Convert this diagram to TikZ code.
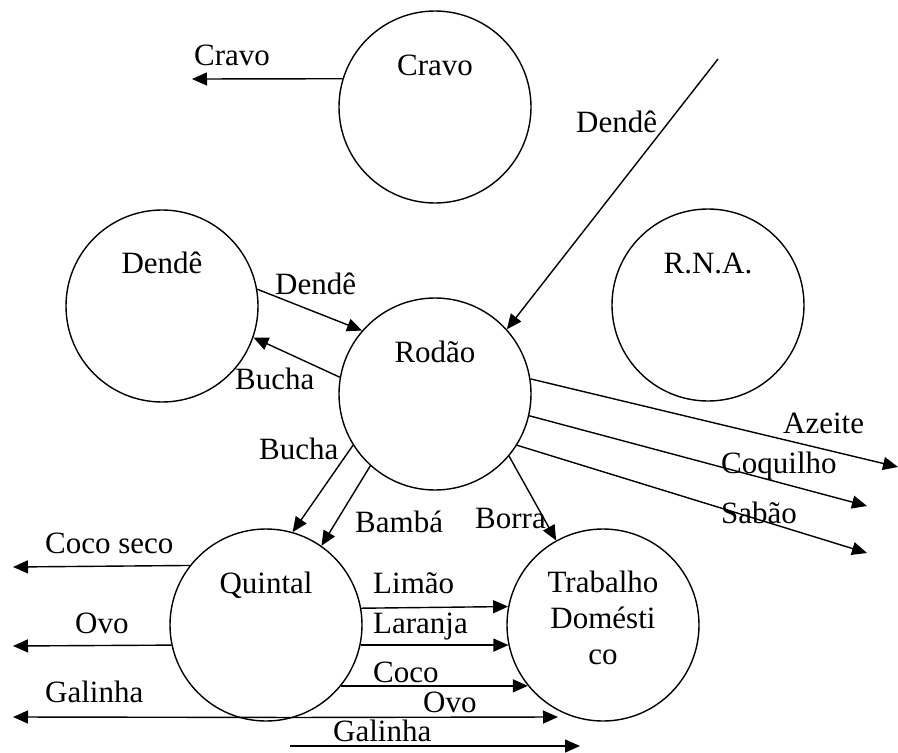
\documentclass[tikz,border=0pt]{standalone}
\usepackage{fontspec}
\setmainfont{Liberation Serif}
\usetikzlibrary{arrows.meta}

\begin{document}
\begin{tikzpicture}[
  x=1pt, y=-1pt,
  font=\fontsize{31}{36}\selectfont,
  proc/.style={draw, circle, minimum size=192pt, inner sep=0pt, line width=1.4pt},
  flow/.style={-{Triangle[length=15pt,width=13pt]}, line width=1.4pt},
  lbl/.style={anchor=base west, inner sep=0pt},
  ttl/.style={anchor=base, inner sep=0pt, align=center},
]
  \useasboundingbox (0,0) rectangle (898,753);

  % Circles
  \node[proc] (cravo)  at (435,107) {};
  \node[proc] (dende)  at (162,306) {};
  \node[proc] (rodao)  at (435,394) {};
  \node[proc] (rna)    at (708,305) {};
  \node[proc] (quintal) at (266,625) {};
  \node[proc] (trab)   at (603,625) {};

  % Circle names
  \node[ttl] (cravoname)   at (435,75)  {Cravo};
  \node[ttl] (dendename)   at (162,273) {Dendê};
  \node[ttl] (rodaoname)   at (435,362) {Rodão};
  \node[ttl] (rnaname)     at (708,273) {R.N.A.};
  \node[ttl] (quintalname) at (266,593) {Quintal};
  \node[ttl, anchor=north] (trabname) at (603,571) {Trabalho\\Domésti\\co};

  % Free ends
  \coordinate (cravoend)     at (192,79);
  \coordinate (dendestart)   at (718,59);
  \coordinate (azeiteend)    at (898,467);
  \coordinate (coquilhoend)  at (867,506);
  \coordinate (sabaoend)     at (867,553);
  \coordinate (cocosecoend)  at (13,567);
  \coordinate (ovoleftend)   at (13,646);
  \coordinate (galinhaend)   at (13,717);
  \coordinate (ovoend)       at (558,717);
  \coordinate (galinhastart) at (290,746);
  \coordinate (galinhatip)   at (580,746);

  % Flows
  \draw[flow] (cravo.163) -- (cravoend);
  \draw[flow] (dendestart) -- (rodao.42);
  \draw[flow] (dende.10) -- (rodao.139);
  \draw[flow] (rodao.170) -- (dende.-19);
  \draw[flow] (rodao.212) -- (quintal.74);
  \draw[flow] (rodao.228) -- (quintal.55);
  \draw[flow] (rodao.-40) -- (trab.119);
  \draw[flow] (rodao.9.6) -- (azeiteend);
  \draw[flow] (rodao.-13.9) -- (coquilhoend);
  \draw[flow] (rodao.-32.2) -- (sabaoend);
  \draw[flow] (quintal.142.8) -- (cocosecoend);
  \draw[flow] (quintal.192.6) -- (ovoleftend);
  \draw[flow] (quintal.-73.4) -- (galinhaend);
  \draw[flow] (quintal.10.8) -- (trab.169.2);
  \draw[flow] (quintal.-12.6) -- (trab.192.6);
  \draw[flow] (quintal.-39.4) -- (trab.219.4);
  \draw[flow] (quintal.-73.4) -- (ovoend);
  \draw[flow] (galinhastart) -- (galinhatip);

  % Flow labels
  \node[lbl] (lcravo)    at (194,65)  {Cravo};
  \node[lbl] (ldendein)  at (576,132) {Dendê};
  \node[lbl] (ldende)    at (275,294) {Dendê};
  \node[lbl] (lbucha)    at (235,389) {Bucha};
  \node[lbl] (lbuchaq)   at (259,459) {Bucha};
  \node[lbl] (lbamba)    at (355,532) {Bambá};
  \node[lbl] (lborra)    at (475,528) {Borra};
  \node[lbl] (lazeite)   at (783,433) {Azeite};
  \node[lbl] (lcoquilho) at (721,473) {Coquilho};
  \node[lbl] (lsabao)    at (721,523) {Sabão};
  \node[lbl] (lcocoseco) at (45,553)  {Coco seco};
  \node[lbl] (lovoleft)  at (75,633)  {Ovo};
  \node[lbl] (lgalinha)  at (45,702)  {Galinha};
  \node[lbl] (llimao)    at (373,593) {Limão};
  \node[lbl] (llaranja)  at (373,633) {Laranja};
  \node[lbl] (lcoco)     at (373,682) {Coco};
  \node[lbl] (lovo)      at (423,712) {Ovo};
  \node[lbl] (lgalinhab) at (333,741) {Galinha};
\end{tikzpicture}
\end{document}
